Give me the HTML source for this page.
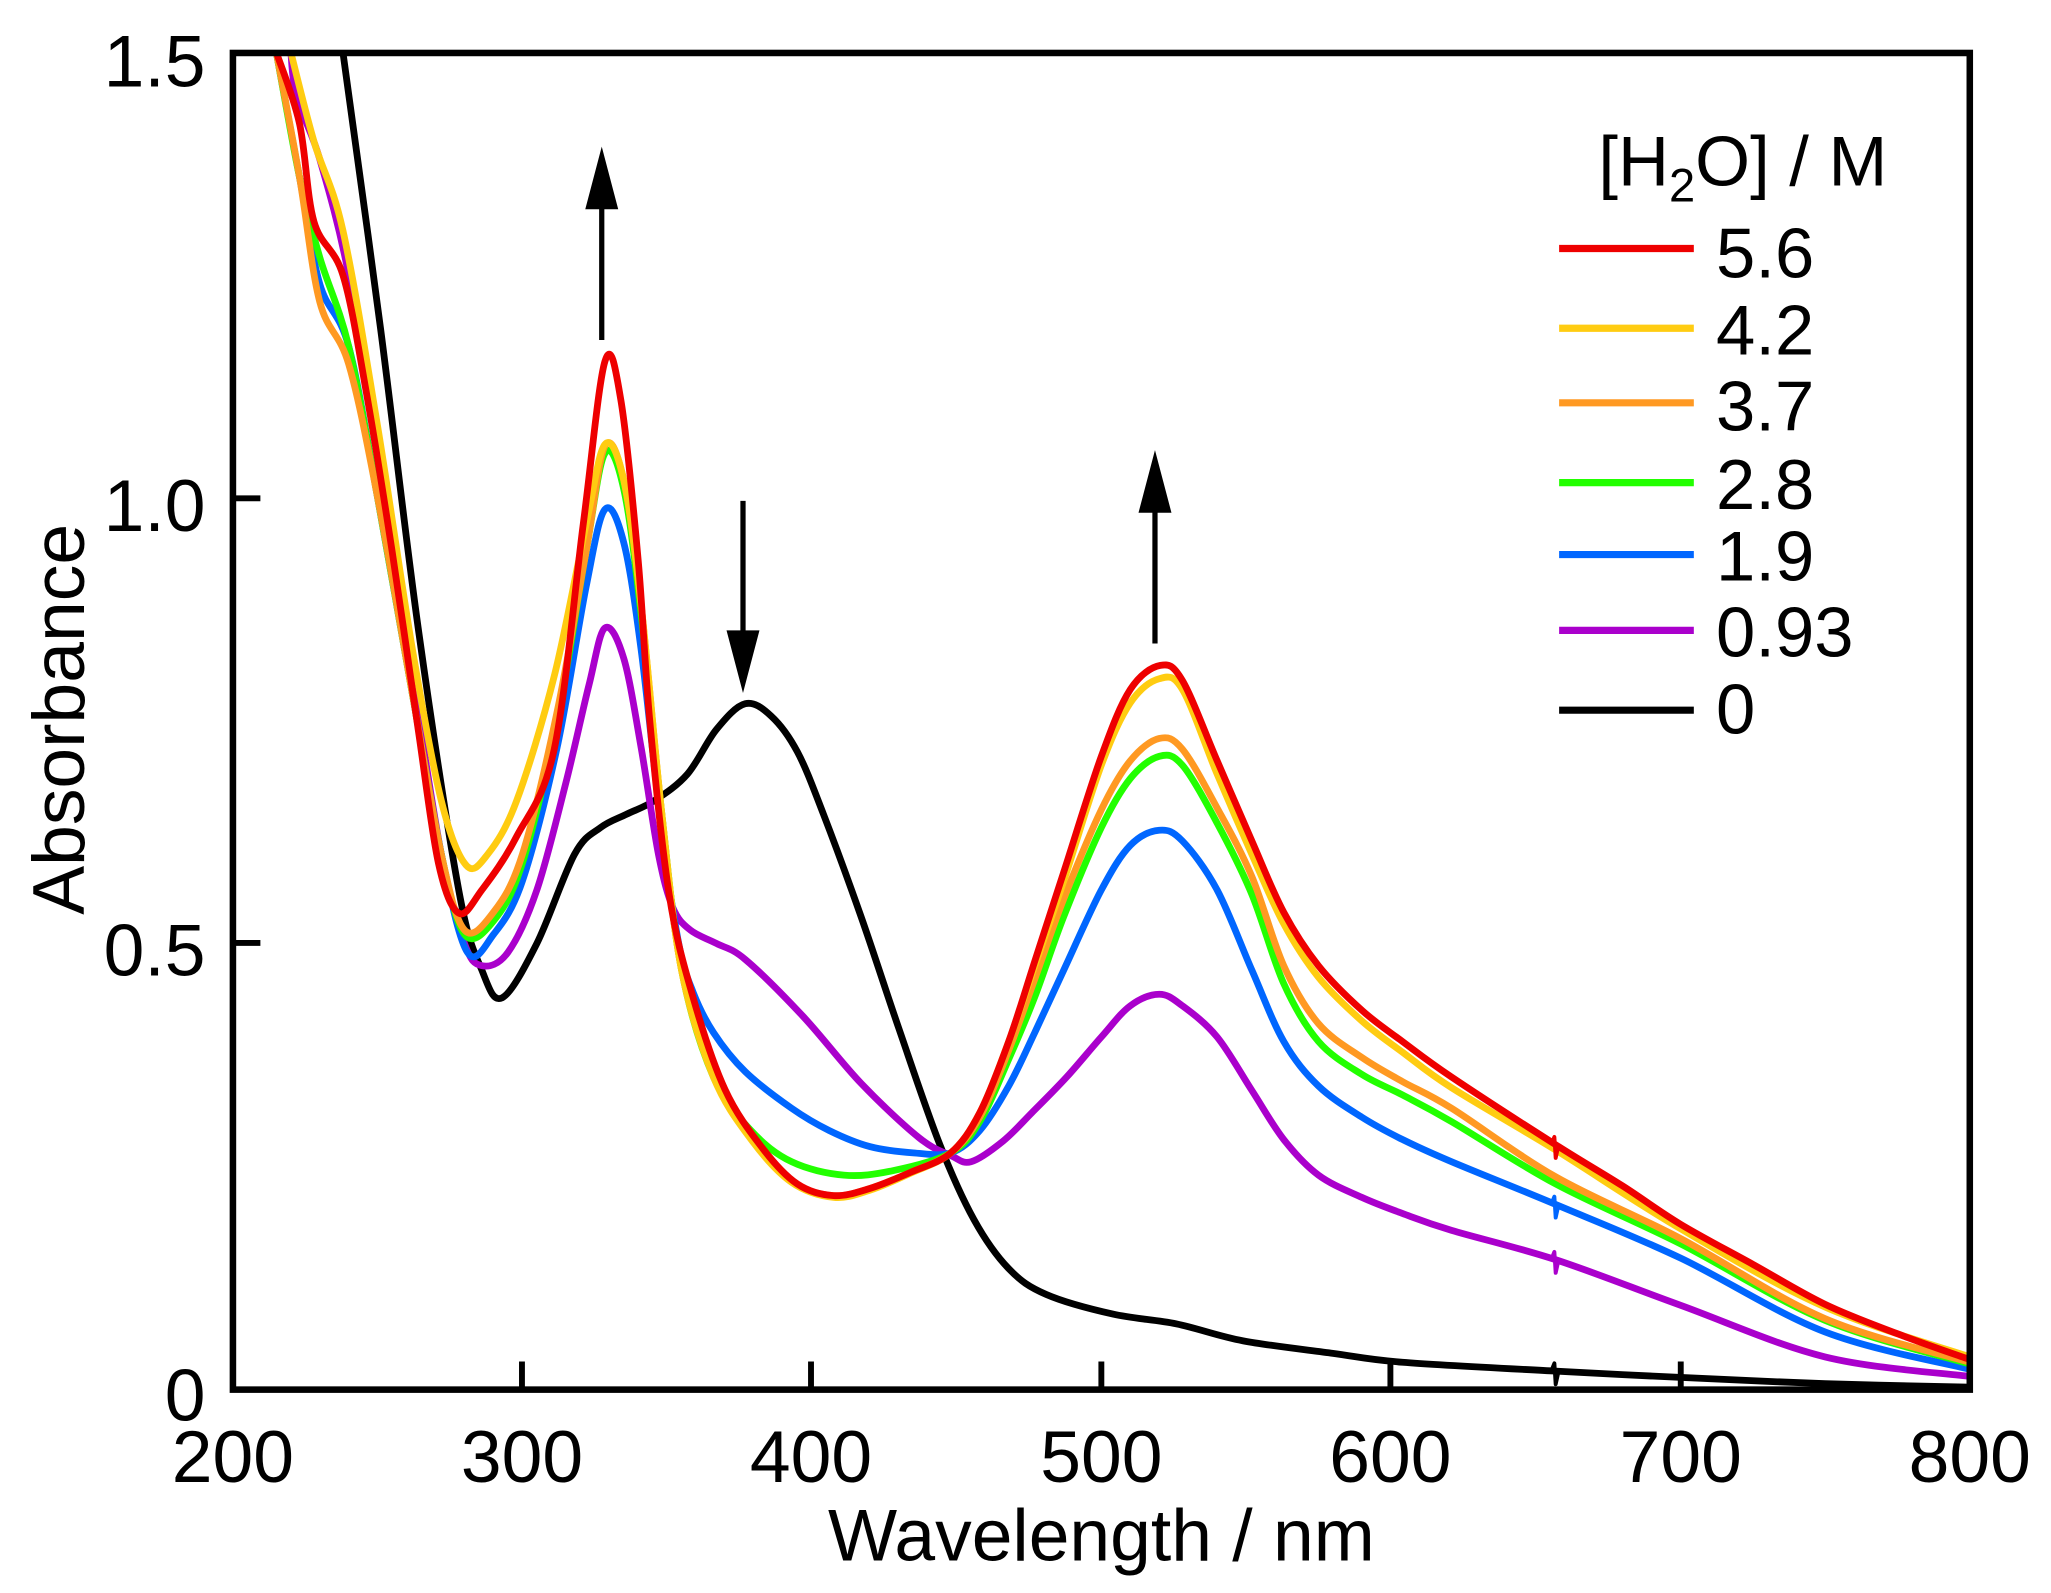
<!DOCTYPE html>
<html><head><meta charset="utf-8">
<style>html,body{margin:0;padding:0;background:#fff;}svg{display:block;}</style>
</head><body>
<svg id="s" width="2051" height="1593" viewBox="0 0 1568 1218" xmlns="http://www.w3.org/2000/svg" font-family="Liberation Sans, Arial, sans-serif">
<defs><clipPath id="c"><rect x="178" y="40" width="1328" height="1022"/></clipPath></defs>
<g id="curves" clip-path="url(#c)" fill="none" stroke-width="5.2" stroke-linejoin="round"></g>
<rect x="178" y="40.5" width="1328" height="1022" fill="none" stroke="#000" stroke-width="5"/>
<g stroke="#000" stroke-width="4.5">
<line x1="399" y1="1062" x2="399" y2="1041"/><line x1="620" y1="1062" x2="620" y2="1041"/><line x1="842" y1="1062" x2="842" y2="1041"/><line x1="1063" y1="1062" x2="1063" y2="1041"/><line x1="1285" y1="1062" x2="1285" y2="1041"/>
<line x1="178" y1="721" x2="199" y2="721"/><line x1="178" y1="381" x2="199" y2="381"/>
</g>
<g font-size="56" fill="#000">
<text x="178" y="1133" text-anchor="middle">200</text>
<text x="399" y="1133" text-anchor="middle">300</text>
<text x="620" y="1133" text-anchor="middle">400</text>
<text x="842" y="1133" text-anchor="middle">500</text>
<text x="1063" y="1133" text-anchor="middle">600</text>
<text x="1285" y="1133" text-anchor="middle">700</text>
<text x="1506" y="1133" text-anchor="middle">800</text>
<text x="157" y="1086" text-anchor="end">0</text>
<text x="157" y="746" text-anchor="end">0.5</text>
<text x="157" y="406" text-anchor="end">1.0</text>
<text x="157" y="66" text-anchor="end">1.5</text>
<text x="842" y="1193" text-anchor="middle">Wavelength / nm</text>
<text transform="translate(64,550) rotate(-90)" text-anchor="middle">Absorbance</text>
</g>
<g font-size="54" fill="#000">
<text x="1222" y="142">[H<tspan font-size="36" dy="12">2</tspan><tspan dy="-12">O] / M</tspan></text>
<text x="1312" y="212">5.6</text>
<text x="1312" y="271">4.2</text>
<text x="1312" y="329">3.7</text>
<text x="1312" y="389">2.8</text>
<text x="1312" y="444">1.9</text>
<text x="1312" y="502">0.93</text>
<text x="1312" y="561">0</text>
</g>
<g stroke-width="5.5">
<line x1="1192" y1="190" x2="1295" y2="190" stroke="#ee0000"/>
<line x1="1192" y1="251" x2="1295" y2="251" stroke="#ffcc11"/>
<line x1="1192" y1="308" x2="1295" y2="308" stroke="#ff9922"/>
<line x1="1192" y1="369" x2="1295" y2="369" stroke="#22ff00"/>
<line x1="1192" y1="424" x2="1295" y2="424" stroke="#0066ff"/>
<line x1="1192" y1="482" x2="1295" y2="482" stroke="#aa00cc"/>
<line x1="1192" y1="543" x2="1295" y2="543" stroke="#000"/>
</g>
<g stroke="#000" stroke-width="4">
<line x1="460" y1="260" x2="460" y2="150"/><polygon points="460,120 450,158 470,158" fill="#000"/>
<line x1="568" y1="383" x2="568" y2="490"/><polygon points="568,522 558,484 578,484" fill="#000"/>
<line x1="883" y1="492" x2="883" y2="382"/><polygon points="883,352 873,390 893,390" fill="#000"/>
</g>
</svg>
<script>
function X(l){return 178+(l-200)*2.2133;}
function Y(a){return 1062-a*681.33;}
var D={
"#000":[238,1.5,251,1.19,264,0.854,278,0.56,286,0.47,293,0.439,305,0.50,318,0.60,327,0.63,336,0.645,345.5,0.66,357,0.69,367,0.74,377,0.769,386,0.755,395,0.715,404,0.645,417,0.53,430,0.405,444,0.276,456,0.19,468,0.135,481,0.106,504,0.084,526,0.073,549,0.054,580,0.04,604,0.03,657,0.02,700,0.013,750,0.006,800,0.002],
"#aa00cc":[220,1.5,222,1.45,230,1.38,240,1.25,250,1.05,262,0.80,272,0.6,280,0.50,286,0.475,295,0.49,305,0.56,315,0.68,323,0.79,328.5,0.854,335,0.82,341,0.72,347,0.60,352,0.54,358,0.515,367,0.50,377,0.482,397,0.418,417,0.343,437,0.282,448,0.262,455,0.255,466,0.278,476,0.31,488,0.35,500,0.395,510,0.43,520,0.443,528,0.43,540,0.395,552,0.335,563,0.28,575,0.24,590,0.215,604,0.197,621,0.178,657,0.145,700,0.094,750,0.036,800,0.014],
"#0066ff":[215,1.5,223,1.36,230,1.24,240,1.17,250,1.0,262,0.78,272,0.6,281,0.49,290,0.51,300,0.57,312,0.72,322,0.9,328.5,0.987,335,0.95,341,0.83,348,0.63,354,0.5,359,0.445,366,0.40,377,0.356,393,0.315,406,0.29,420,0.272,435,0.265,448,0.265,458,0.29,468,0.34,477,0.40,487,0.47,500,0.56,510,0.61,520,0.627,528,0.615,540,0.56,552,0.47,563,0.39,575,0.34,590,0.305,604,0.28,621,0.255,657,0.207,700,0.147,750,0.064,800,0.022],
"#22ff00":[215,1.5,223,1.36,230,1.27,240,1.17,250,1.0,262,0.78,272,0.6,280,0.51,290,0.525,300,0.59,312,0.75,322,0.94,328.5,1.05,335,1.01,341,0.87,348,0.65,355,0.47,366,0.35,379,0.29,393,0.255,411,0.24,428,0.245,448,0.265,458,0.30,468,0.37,477,0.44,487,0.53,500,0.63,510,0.685,520,0.71,528,0.70,540,0.635,552,0.555,563,0.455,575,0.39,590,0.353,604,0.33,621,0.30,657,0.23,700,0.163,750,0.077,800,0.028],
"#ff9922":[215,1.5,223,1.36,230,1.22,240,1.15,250,1.0,262,0.78,272,0.6,280,0.515,290,0.535,300,0.6,312,0.76,322,0.94,328.5,1.058,335,1.02,341,0.88,348,0.65,355,0.47,366,0.355,379,0.282,393,0.232,407.5,0.217,420,0.225,434,0.243,448,0.265,458,0.305,468,0.38,477,0.46,487,0.55,500,0.65,510,0.705,520,0.73,528,0.718,540,0.652,552,0.575,563,0.475,575,0.41,590,0.372,604,0.345,621,0.315,657,0.238,700,0.169,750,0.079,800,0.03],
"#ffcc11":[220,1.5,228,1.40,238,1.30,250,1.08,262,0.83,272,0.66,280.5,0.588,288,0.60,298,0.66,311,0.80,322,0.97,328.5,1.06,335,1.02,341,0.88,348,0.65,355,0.47,366,0.35,379,0.28,393,0.232,407.5,0.215,420,0.223,434,0.242,448,0.265,458,0.31,468,0.39,477,0.475,487,0.57,500,0.70,510,0.77,520,0.797,528,0.785,540,0.69,552,0.60,563,0.522,575,0.462,590,0.413,604,0.378,621,0.338,657,0.268,700,0.18,750,0.092,800,0.036],
"#ee0000":[215,1.5,223,1.42,228,1.31,238,1.25,246,1.12,255,0.94,264,0.74,271,0.59,278,0.534,286,0.56,298,0.62,311,0.718,321,0.97,328.5,1.153,334,1.11,340,0.93,344,0.75,350.7,0.555,359,0.439,370,0.336,383,0.27,395,0.23,407.5,0.217,420,0.225,434,0.243,448,0.265,458,0.31,468,0.39,477,0.48,487,0.58,500,0.71,510,0.785,520.4,0.812,528,0.795,540,0.705,552,0.615,563,0.535,575,0.475,590,0.425,604,0.39,621,0.35,657,0.274,680,0.228,700,0.185,725,0.14,750,0.095,775,0.062,800,0.033]
};
var g=document.getElementById('curves'),ns="http://www.w3.org/2000/svg";
for(var col in D){var a=D[col],p=[];for(var i=0;i<a.length;i+=2)p.push([X(a[i]),Y(a[i+1])]);
var d="M"+p[0][0]+","+p[0][1];
for(var i=0;i<p.length-1;i++){var p0=p[Math.max(0,i-1)],p1=p[i],p2=p[i+1],p3=p[Math.min(p.length-1,i+2)];
d+=" C"+(p1[0]+(p2[0]-p0[0])/6)+","+(p1[1]+(p2[1]-p0[1])/6)+" "+(p2[0]-(p3[0]-p1[0])/6)+","+(p2[1]-(p3[1]-p1[1])/6)+" "+p2[0]+","+p2[1];}
var e=document.createElementNS(ns,"path");e.setAttribute("d",d);e.setAttribute("stroke",col);g.appendChild(e);}
[["#ee0000",0.274],["#0066ff",0.207],["#aa00cc",0.145],["#000",0.02]].forEach(function(q){
var x=X(656.5),y=Y(q[1]);var e=document.createElementNS(ns,"path");
e.setAttribute("d","M"+(x-2)+","+(y-1)+" L"+x+","+(y-6)+" L"+(x+1)+","+(y+10)+" L"+(x+3)+","+(y+1));
e.setAttribute("stroke",q[0]);e.setAttribute("stroke-width","3");e.setAttribute("fill","none");g.appendChild(e);});
</script>
</body></html>
